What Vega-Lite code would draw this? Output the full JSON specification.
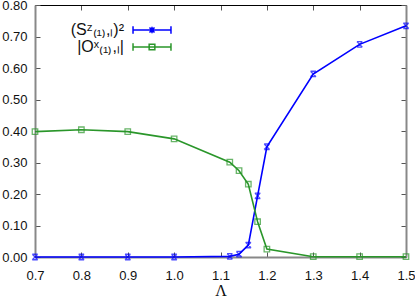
{
  "$schema": "https://vega.github.io/schema/vega-lite/v6.json",
  "width": 371,
  "height": 252,
  "autosize": {"type": "none"},
  "padding": {"left": 35, "top": 5, "right": 9, "bottom": 44},
  "background": "white",
  "config": {
    "view": {"stroke": null},
    "font": "Liberation Sans",
    "axis": {"grid": false, "labelFont": "Liberation Sans", "labelFontSize": 13, "labelColor": "#111", "tickColor": "#555", "tickSize": -5, "tickWidth": 1}
  },
  "data": {
    "values": [
      {"L": 0.7, "v": 0.0, "s": "S"},
      {"L": 0.8, "v": 0.0, "s": "S"},
      {"L": 0.9, "v": 0.0, "s": "S"},
      {"L": 1.0, "v": 0.0, "s": "S"},
      {"L": 1.12, "v": 0.002, "s": "S"},
      {"L": 1.14, "v": 0.009, "s": "S"},
      {"L": 1.16, "v": 0.038, "s": "S"},
      {"L": 1.18, "v": 0.194, "s": "S"},
      {"L": 1.2, "v": 0.35, "s": "S"},
      {"L": 1.3, "v": 0.581, "s": "S"},
      {"L": 1.4, "v": 0.675, "s": "S"},
      {"L": 1.5, "v": 0.734, "s": "S"},
      {"L": 0.7, "v": 0.398, "s": "O"},
      {"L": 0.8, "v": 0.404, "s": "O"},
      {"L": 0.9, "v": 0.398, "s": "O"},
      {"L": 1.0, "v": 0.375, "s": "O"},
      {"L": 1.12, "v": 0.301, "s": "O"},
      {"L": 1.14, "v": 0.274, "s": "O"},
      {"L": 1.16, "v": 0.231, "s": "O"},
      {"L": 1.18, "v": 0.112, "s": "O"},
      {"L": 1.2, "v": 0.025, "s": "O"},
      {"L": 1.3, "v": 0.001, "s": "O"},
      {"L": 1.4, "v": 0.001, "s": "O"},
      {"L": 1.5, "v": 0.001, "s": "O"}
    ]
  },
  "layer": [
    {
      "mark": {"type": "line", "strokeWidth": 1.6},
      "encoding": {
        "x": {"field": "L", "type": "quantitative",
          "scale": {"domain": [0.7, 1.5], "nice": false, "zero": false},
          "axis": {"orient": "bottom", "values": [0.7, 0.8, 0.9, 1.0, 1.1, 1.2, 1.3, 1.4, 1.5], "format": ".1f", "labelPadding": 17, "domainColor": "#888", "domainWidth": 2, "title": "Λ", "titleFont": "Liberation Serif", "titleFontSize": 16, "titleFontWeight": "normal", "titlePadding": 0, "titleColor": "#111", "labelFlush": false}},
        "y": {"field": "v", "type": "quantitative",
          "scale": {"domain": [0, 0.8], "nice": false},
          "axis": {"orient": "left", "values": [0, 0.1, 0.2, 0.3, 0.4, 0.5, 0.6, 0.7, 0.8], "format": ".2f", "labelPadding": 13, "domainColor": "#888", "domainWidth": 2, "title": null, "labelFlush": false}},
        "color": {"field": "s", "type": "nominal",
          "scale": {"domain": ["S", "O"], "range": ["#0000ff", "#2a962a"]},
          "legend": {
            "orient": "none", "legendX": 109, "legendY": 17,
            "title": null, "padding": 0,
            "labelExpr": "datum.value == 'S' ? '(Sᶻ₍₁₎,ₗ)²' : '|Oˣ₍₁₎,ₗ|'",
            "labelFontSize": 16, "labelColor": "#111", "labelFont": "Liberation Sans",
            "labelAlign": "right", "labelOffset": -36,
            "symbolSize": 160, "symbolStrokeWidth": 1.5,
            "symbolType": "M-3,0H3M-3,-0.6V0.6M3,-0.6V0.6",
            "rowPadding": 1,
            "encode": {"symbols": {"update": {
              "shape": {"signal": "datum.value == 'S' ? 'M-3,0H3M-3,-0.6V0.6M3,-0.6V0.6M-0.4,-0.4L0.4,0.4M-0.4,0.4L0.4,-0.4M0,-0.5V0.5' : 'M-3,0H3M-3,-0.6V0.6M3,-0.6V0.6M-0.45,-0.45H0.45V0.45H-0.45Z'"},
              "stroke": {"signal": "datum.value == 'S' ? '#0000ff' : '#2a962a'"},
              "strokeWidth": {"value": 1.5},
              "opacity": {"value": 1},
              "fill": {"value": "transparent"}
            }}}
          }}
      }
    },
    {
      "mark": {"type": "point", "filled": false, "strokeWidth": 1.3, "size": 30},
      "encoding": {
        "x": {"field": "L", "type": "quantitative",
          "axis": {"orient": "top", "values": [0.7, 0.8, 0.9, 1.0, 1.1, 1.2, 1.3, 1.4, 1.5], "labels": false, "domainColor": "#000", "domainWidth": 1, "title": null}},
        "y": {"field": "v", "type": "quantitative",
          "axis": {"orient": "right", "values": [0, 0.1, 0.2, 0.3, 0.4, 0.5, 0.6, 0.7, 0.8], "labels": false, "domainColor": "#888", "domainWidth": 2, "title": null}},
        "color": {"field": "s", "type": "nominal", "legend": null},
        "shape": {"condition": {"test": "datum.s == 'S'", "value": "M-1,-1L1,1M-1,1L1,-1M-1,-1H1M-1,1H1"}, "value": "square"}
      }
    }
  ],
  "resolve": {"axis": {"x": "independent", "y": "independent"}}
}
